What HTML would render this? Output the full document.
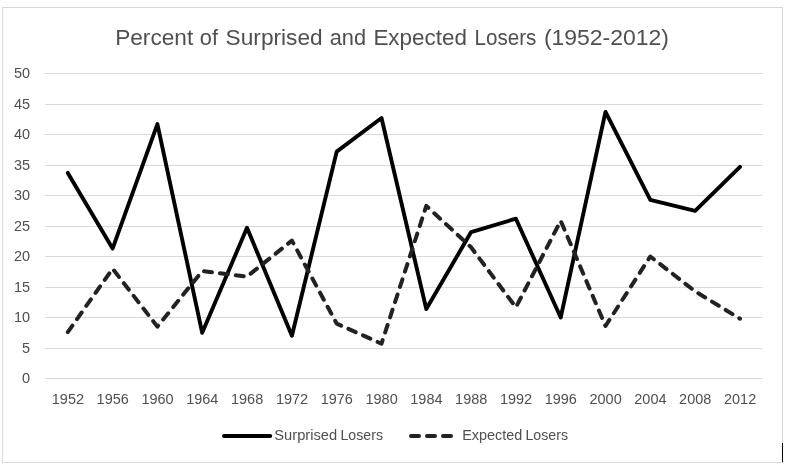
<!DOCTYPE html>
<html lang="en">
<head>
<meta charset="utf-8">
<title>Percent of Surprised and Expected Losers (1952-2012)</title>
<style>
html,body{margin:0;padding:0;background:#fff;}
body{width:789px;height:471px;overflow:hidden;}
svg{display:block;font-family:"Liberation Sans",sans-serif;}
.g line{stroke:#d9d9d9;stroke-width:1;}
.ax text{font-size:13.8px;fill:#4f4f4f;}
.title{font-size:22.4px;fill:#4f4f4f;}
.s1{fill:none;stroke:#000;stroke-width:3.9;stroke-linecap:round;stroke-linejoin:round;}
.s2{fill:none;stroke:#222;stroke-width:4;stroke-linecap:round;stroke-linejoin:round;stroke-dasharray:8 8;}
</style>
</head>
<body>
<svg width="789" height="471" viewBox="0 0 789 471">
<rect x="0" y="0" width="789" height="471" fill="#fff"/>
<rect x="2.5" y="7.5" width="780" height="455" fill="#fff" stroke="#d9d9d9" stroke-width="1"/>
<text class="title" y="45"><tspan x="115.2" textLength="78.01" lengthAdjust="spacingAndGlyphs">Percent</tspan> <tspan x="199.8" textLength="18.13" lengthAdjust="spacingAndGlyphs">of</tspan> <tspan x="225.6" textLength="97.06" lengthAdjust="spacingAndGlyphs">Surprised</tspan> <tspan x="329.7" textLength="36.34" lengthAdjust="spacingAndGlyphs">and</tspan> <tspan x="373.4" textLength="93.58" lengthAdjust="spacingAndGlyphs">Expected</tspan> <tspan x="474.5" textLength="61.87" lengthAdjust="spacingAndGlyphs">Losers</tspan> <tspan x="543.9" textLength="125.06" lengthAdjust="spacingAndGlyphs">(1952-2012)</tspan></text>
<g class="g"><line x1="45" x2="762.7" y1="73.5" y2="73.5"/><line x1="45" x2="762.7" y1="104.5" y2="104.5"/><line x1="45" x2="762.7" y1="134.5" y2="134.5"/><line x1="45" x2="762.7" y1="165.5" y2="165.5"/><line x1="45" x2="762.7" y1="195.5" y2="195.5"/><line x1="45" x2="762.7" y1="226.5" y2="226.5"/><line x1="45" x2="762.7" y1="256.5" y2="256.5"/><line x1="45" x2="762.7" y1="287.5" y2="287.5"/><line x1="45" x2="762.7" y1="317.5" y2="317.5"/><line x1="45" x2="762.7" y1="348.5" y2="348.5"/><line x1="45" x2="762.7" y1="378.5" y2="378.5"/></g>
<g class="ax"><text x="30.1" y="77.9" text-anchor="end" textLength="16.1" lengthAdjust="spacingAndGlyphs">50</text><text x="30.1" y="108.9" text-anchor="end" textLength="16.1" lengthAdjust="spacingAndGlyphs">45</text><text x="30.1" y="138.9" text-anchor="end" textLength="16.1" lengthAdjust="spacingAndGlyphs">40</text><text x="30.1" y="169.9" text-anchor="end" textLength="16.1" lengthAdjust="spacingAndGlyphs">35</text><text x="30.1" y="199.9" text-anchor="end" textLength="16.1" lengthAdjust="spacingAndGlyphs">30</text><text x="30.1" y="230.9" text-anchor="end" textLength="16.1" lengthAdjust="spacingAndGlyphs">25</text><text x="30.1" y="260.9" text-anchor="end" textLength="16.1" lengthAdjust="spacingAndGlyphs">20</text><text x="30.1" y="291.9" text-anchor="end" textLength="16.1" lengthAdjust="spacingAndGlyphs">15</text><text x="30.1" y="321.9" text-anchor="end" textLength="16.1" lengthAdjust="spacingAndGlyphs">10</text><text x="30.1" y="352.9" text-anchor="end" textLength="8.1" lengthAdjust="spacingAndGlyphs">5</text><text x="30.1" y="382.9" text-anchor="end" textLength="8.1" lengthAdjust="spacingAndGlyphs">0</text></g>
<g class="ax"><text x="67.9" y="404.2" text-anchor="middle" textLength="32.2" lengthAdjust="spacingAndGlyphs">1952</text><text x="112.7" y="404.2" text-anchor="middle" textLength="32.2" lengthAdjust="spacingAndGlyphs">1956</text><text x="157.5" y="404.2" text-anchor="middle" textLength="32.2" lengthAdjust="spacingAndGlyphs">1960</text><text x="202.3" y="404.2" text-anchor="middle" textLength="32.2" lengthAdjust="spacingAndGlyphs">1964</text><text x="247.1" y="404.2" text-anchor="middle" textLength="32.2" lengthAdjust="spacingAndGlyphs">1968</text><text x="292.0" y="404.2" text-anchor="middle" textLength="32.2" lengthAdjust="spacingAndGlyphs">1972</text><text x="336.8" y="404.2" text-anchor="middle" textLength="32.2" lengthAdjust="spacingAndGlyphs">1976</text><text x="381.6" y="404.2" text-anchor="middle" textLength="32.2" lengthAdjust="spacingAndGlyphs">1980</text><text x="426.4" y="404.2" text-anchor="middle" textLength="32.2" lengthAdjust="spacingAndGlyphs">1984</text><text x="471.2" y="404.2" text-anchor="middle" textLength="32.2" lengthAdjust="spacingAndGlyphs">1988</text><text x="516.0" y="404.2" text-anchor="middle" textLength="32.2" lengthAdjust="spacingAndGlyphs">1992</text><text x="560.8" y="404.2" text-anchor="middle" textLength="32.2" lengthAdjust="spacingAndGlyphs">1996</text><text x="605.6" y="404.2" text-anchor="middle" textLength="32.2" lengthAdjust="spacingAndGlyphs">2000</text><text x="650.4" y="404.2" text-anchor="middle" textLength="32.2" lengthAdjust="spacingAndGlyphs">2004</text><text x="695.2" y="404.2" text-anchor="middle" textLength="32.2" lengthAdjust="spacingAndGlyphs">2008</text><text x="740.1" y="404.2" text-anchor="middle" textLength="32.2" lengthAdjust="spacingAndGlyphs">2012</text></g>
<polyline class="s1" points="67.8,172.9 112.6,248.6 157.4,124.1 202.2,332.8 247.0,227.8 291.9,335.8 336.7,151.6 381.5,118.0 426.3,309.0 471.1,232.1 515.9,218.7 560.7,317.5 605.5,111.9 650.3,199.8 695.1,210.8 740.0,166.8"/>
<polyline class="s2" points="67.8,332.1 112.6,268.7 157.4,326.6 202.2,271.1 247.0,276.6 291.9,240.6 336.7,323.6 381.5,343.7 426.3,205.9 471.1,247.3 515.9,307.3 560.7,220.8 605.5,326.0 650.3,256.5 695.1,291.3 740.0,318.7"/>
<line class="s1" x1="224" x2="270.2" y1="436" y2="436"/>
<line class="s2" x1="411" x2="451" y1="436" y2="436"/>
<g class="ax">
<text y="439.8"><tspan x="274.3" textLength="62.83" lengthAdjust="spacingAndGlyphs">Surprised</tspan> <tspan x="340.5" textLength="42.51" lengthAdjust="spacingAndGlyphs">Losers</tspan></text>
<text y="439.8"><tspan x="462.2" textLength="59.98" lengthAdjust="spacingAndGlyphs">Expected</tspan> <tspan x="525.5" textLength="42.51" lengthAdjust="spacingAndGlyphs">Losers</tspan></text>
</g>
<rect x="782" y="443" width="1" height="19" fill="#000"/>
</svg>
</body>
</html>
